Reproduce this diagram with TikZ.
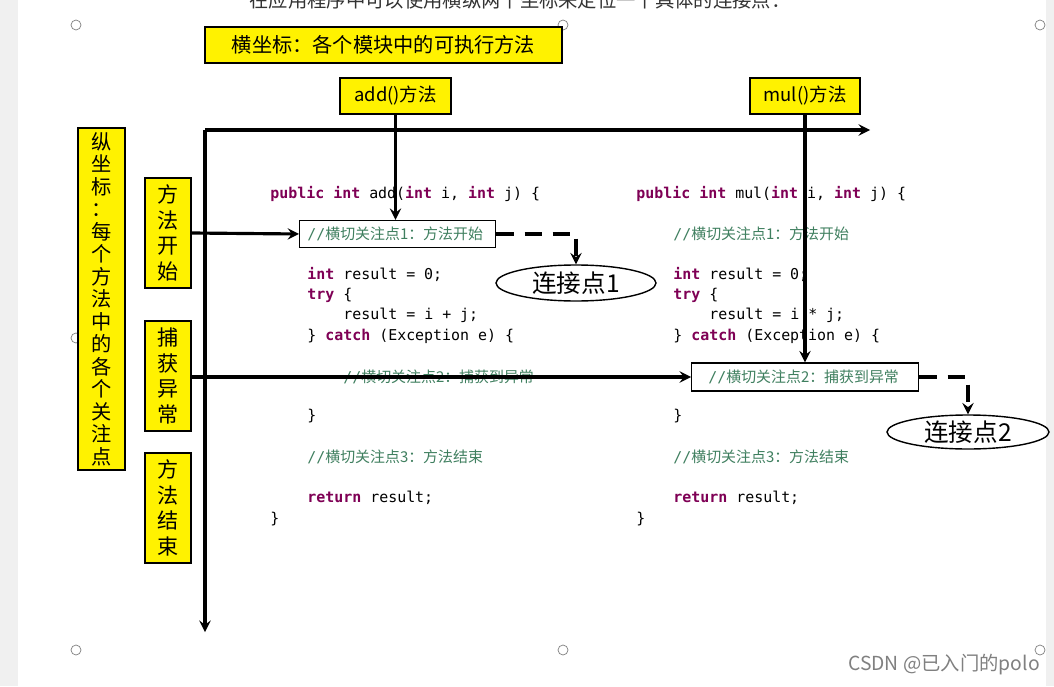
\documentclass[tikz,border=0pt]{standalone}
\usepackage{fontspec}
\setmainfont{Liberation Sans}
\newfontfamily\cjk{Noto Sans CJK SC}
\newfontfamily\codefont{DejaVu Sans Mono}
\usetikzlibrary{shapes.geometric}
\definecolor{kwcol}{HTML}{7F0055}
\definecolor{cmcol}{HTML}{3F7F5F}
\newcommand{\kw}[1]{{\bfseries\color{kwcol}#1}}
\newcommand{\cm}[1]{{\color{cmcol}//\cjk #1}}
\begin{document}
\begin{tikzpicture}[x=0.02cm, y=-0.02cm, >=stealth, font=\cjk]
    \tikzstyle{ybox} = [draw, thick, fill=yellow, inner sep=0pt, font=\cjk]
    \tikzstyle{code} = [anchor=west, inner sep=0pt, font=\codefont\fontsize{8.5}{10}\selectfont]
    \tikzstyle{cbox} = [draw, thick, anchor=west, inner sep=0pt, minimum height=27*0.02cm]
    \tikzstyle{jp} = [draw, thick, ellipse, inner sep=0pt, font=\cjk\fontsize{14}{16}\selectfont]
    \tikzstyle{axis} = [->, line width=1.8pt]
    \tikzstyle{link} = [->, line width=1.8pt, dashed, dash pattern=on 10pt off 6pt]
    \tikzstyle{handle} = [draw=gray, fill=white, circle, minimum size=10*0.02cm, inner sep=0pt]
    \tikzstyle{vbox} = [ybox, minimum width=46*0.02cm, minimum height=110*0.02cm, align=center,
        font=\cjk\fontsize{12}{14.5}\selectfont]

    \useasboundingbox (0,0) rectangle (1054,686);
    \clip (0,0) rectangle (1054,686);
    \fill[white] (0,0) rectangle (1054,686);
    \fill[gray!12] (0,0) rectangle (18,686);
    \fill[gray!12] (1046,0) rectangle (1054,686);

    % page text and handles
    \node[anchor=center, text=black!80, font=\cjk\fontsize{11}{12}\selectfont] (title) at (520,0)
        {在应用程序中可以使用横纵两个坐标来定位一个具体的连接点：};
    \foreach \hx/\hy [count=\i] in {76/25, 563/25, 1040/25, 76/338, 76/650, 563/650, 1040/650}
        \node[handle] (h\i) at (\hx,\hy) {};

    % coordinate labels
    \node[ybox, minimum width=357*0.02cm, minimum height=36*0.02cm, font=\cjk\fontsize{11.5}{12}\selectfont]
        (xlabel) at (383.5,45) {横坐标：各个模块中的可执行方法};
    \node[ybox, minimum width=111*0.02cm, minimum height=36*0.02cm, font=\cjk\fontsize{10.5}{12}\selectfont]
        (addm) at (395.5,96) {add()方法};
    \node[ybox, minimum width=110*0.02cm, minimum height=36*0.02cm, font=\cjk\fontsize{10.5}{12}\selectfont]
        (mulm) at (805,96) {mul()方法};
    \node[ybox, minimum width=47*0.02cm, minimum height=342*0.02cm, align=center,
        font=\cjk\fontsize{11.5}{12.8}\selectfont]
        (ylabel) at (101.5,299) {纵\\坐\\标\\：\\每\\个\\方\\法\\中\\的\\各\\个\\关\\注\\点};
    \node[vbox] (begin) at (168,233) {方\\法\\开\\始};
    \node[vbox] (catch) at (168,376) {捕\\获\\异\\常};
    \node[vbox] (end) at (168,508) {方\\法\\结\\束};

    % axes
    \coordinate (origin) at (205,130);
    \coordinate (xend) at (870,130);
    \coordinate (yend) at (205,632);
    \draw[axis] (origin) -- (xend);
    \draw[axis] (origin) -- (yend);

    % add() code
    \node[code] (a1) at (270,194) {\kw{public} \kw{int} add(\kw{int} i, \kw{int} j) \{};
    \node[cbox, code, draw, minimum width=196*0.02cm, minimum height=27*0.02cm] (abox) at (299,234) {};
    \node[code] (a2) at (307,234) {\cm{横切关注点1：方法开始}};
    \node[code] (a3) at (307,274) {\kw{int} result = 0;};
    \node[code] (a4) at (307,295) {\kw{try} \{};
    \node[code] (a5) at (343,315) {result = i + j;};
    \node[code] (a6) at (307,336) {\} \kw{catch} (Exception e) \{};
    \node[code] (a7) at (343,377) {\cm{横切关注点2：捕获到异常}};
    \node[code] (a8) at (307,416) {\}};
    \node[code] (a9) at (307,457) {\cm{横切关注点3：方法结束}};
    \node[code] (a10) at (307,498) {\kw{return} result;};
    \node[code] (a11) at (270,519) {\}};

    % mul() code
    \node[code] (m1) at (636,194) {\kw{public} \kw{int} mul(\kw{int} i, \kw{int} j) \{};
    \node[code] (m2) at (673,234) {\cm{横切关注点1：方法开始}};
    \node[code] (m3) at (673,274) {\kw{int} result = 0;};
    \node[code] (m4) at (673,295) {\kw{try} \{};
    \node[code] (m5) at (709,315) {result = i * j;};
    \node[code] (m6) at (673,336) {\} \kw{catch} (Exception e) \{};
    \node[cbox, code, draw, fill=white, minimum width=227*0.02cm, minimum height=28*0.02cm] (mbox) at (691,377) {};
    \node[code] (m7) at (708,377) {\cm{横切关注点2：捕获到异常}};
    \node[code] (m8) at (673,416) {\}};
    \node[code] (m9) at (673,457) {\cm{横切关注点3：方法结束}};
    \node[code] (m10) at (673,498) {\kw{return} result;};
    \node[code] (m11) at (636,519) {\}};

    % join points
    \node[jp, minimum width=160*0.02cm, minimum height=36*0.02cm] (jp1) at (576,283) {连接点1};
    \node[jp, minimum width=162*0.02cm, minimum height=34*0.02cm] (jp2) at (968,432) {连接点2};

    % arrows
    \draw[axis] (begin.east) -- (abox.west);
    \draw[axis] (catch.east |- mbox.west) -- (mbox.west);
    \draw[axis] (addm.south) -- (addm.south |- abox.north);
    \draw[axis] (mulm.south) -- (mulm.south |- mbox.north);
    \draw[link] (abox.east) -| (jp1.north);
    \draw[link] (mbox.east) -| (jp2.north);

    % watermark
    \node[anchor=center, text=gray, font=\cjk\fontsize{11}{12}\selectfont] (mark) at (944,665) {CSDN @已入门的polo};
\end{tikzpicture}
\end{document}
